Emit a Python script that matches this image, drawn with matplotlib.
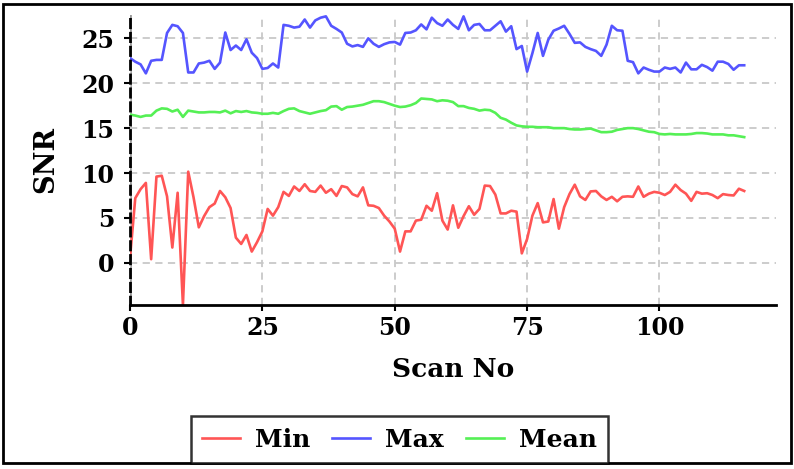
import numpy as np
import matplotlib
matplotlib.use("Agg")
import matplotlib.pyplot as plt
from matplotlib.patches import Rectangle

# SNR per scan
snr_min = [0.5, 7.2, 8.2, 8.9, 0.4, 9.6, 9.7, 7.4, 1.7, 7.8,
           -4.7, 10.15, 7.3, 3.95, 5.2, 6.2, 6.6, 8.0, 7.3, 6.1,
           2.8, 2.1, 3.1, 1.25, 2.3, 3.5, 6.0, 5.25, 6.2, 7.9,
           7.45, 8.5, 8.0, 8.75, 8.0, 7.9, 8.6, 7.8, 8.2, 7.45,
           8.55, 8.4, 7.65, 7.4, 8.4, 6.4, 6.35, 6.1, 5.25, 4.6,
           3.8, 1.25, 3.5, 3.5, 4.7, 4.8, 6.35, 5.8, 7.75, 4.7,
           3.7, 6.4, 3.9, 5.2, 6.3, 5.35, 6.0, 8.6, 8.55, 7.6,
           5.5, 5.5, 5.8, 5.7, 1.05, 2.65, 5.25, 6.65, 4.5, 4.6,
           7.1, 3.8, 6.2, 7.65, 8.7, 7.4, 7.0, 7.95, 8.0, 7.4,
           7.0, 7.35, 6.85, 7.35, 7.4, 7.35, 8.5, 7.35, 7.7, 7.9,
           7.8, 7.55, 7.9, 8.7, 8.1, 7.7, 6.9, 7.9, 7.7, 7.75,
           7.55, 7.2, 7.65, 7.55, 7.5, 8.25, 8.0]
snr_max = [22.8, 22.4, 22.1, 21.1, 22.5, 22.6, 22.6, 25.6, 26.5, 26.35,
           25.6, 21.2, 21.2, 22.2, 22.3, 22.5, 21.6, 22.3, 25.65, 23.7,
           24.2, 23.7, 24.9, 23.4, 22.8, 21.6, 21.7, 22.2, 21.75, 26.5,
           26.4, 26.2, 26.3, 27.1, 26.2, 27.0, 27.3, 27.45, 26.4, 26.05,
           25.65, 24.4, 24.1, 24.25, 24.05, 25.0, 24.4, 24.05, 24.35, 24.55,
           24.6, 24.3, 25.6, 25.65, 25.9, 26.55, 26.0, 27.3, 26.7, 26.4,
           27.1, 26.5, 26.05, 27.45, 25.9, 26.5, 26.6, 25.9, 25.9, 26.4,
           26.9, 25.75, 26.35, 23.8, 24.15, 21.3, 23.35, 25.6, 23.05, 24.85,
           25.85, 26.1, 26.4, 25.5, 24.5, 24.55, 24.05, 23.8, 23.6, 23.05,
           24.3, 26.4, 25.9, 25.85, 22.5, 22.35, 21.1, 21.75, 21.5, 21.3,
           21.3, 21.75, 21.6, 21.75, 21.2, 22.3, 21.55, 21.55, 22.05, 21.8,
           21.4, 22.4, 22.4, 22.15, 21.5, 22.0, 22.0]
snr_mean = [16.5, 16.4, 16.25, 16.4, 16.4, 16.95, 17.2, 17.15, 16.85, 17.05,
            16.25, 16.95, 16.85, 16.75, 16.75, 16.8, 16.8, 16.75, 16.95, 16.65,
            16.9, 16.8, 16.9, 16.75, 16.7, 16.6, 16.6, 16.7, 16.6, 16.9,
            17.15, 17.2, 16.9, 16.75, 16.6, 16.75, 16.9, 17.0, 17.4, 17.45,
            17.05, 17.35, 17.4, 17.5, 17.6, 17.8, 18.0, 18.0, 17.9, 17.7,
            17.5, 17.35, 17.4, 17.55, 17.8, 18.3, 18.25, 18.2, 18.0, 18.1,
            18.05, 17.9, 17.45, 17.45, 17.25, 17.15, 16.95, 17.05, 17.0, 16.7,
            16.15, 15.95, 15.6, 15.3, 15.2, 15.15, 15.15, 15.1, 15.1, 15.1,
            15.0, 15.0, 15.0, 14.9, 14.85, 14.85, 14.9, 14.95, 14.75, 14.55,
            14.55, 14.6, 14.8, 14.9, 15.0, 15.0, 14.9, 14.75, 14.6, 14.55,
            14.35, 14.3, 14.35, 14.3, 14.3, 14.3, 14.35, 14.45, 14.45, 14.4,
            14.3, 14.3, 14.3, 14.2, 14.2, 14.1, 14.0]
scan_no = np.arange(len(snr_min))

x_ticks = [0, 25, 50, 75, 100]
y_ticks = [0, 5, 10, 15, 20, 25]

plt.rcParams['font.family'] = 'DejaVu Serif'
plt.rcParams['font.weight'] = 'bold'

fig = plt.figure(figsize=(7.94, 4.69), dpi=100)
ax = fig.add_axes([0.1637, 0.3497, 0.8136, 0.6183])

ax.plot(scan_no, snr_min, color='#ff5555', lw=1.9, label='Min')
ax.plot(scan_no, snr_max, color='#5555ff', lw=1.9, label='Max')
ax.plot(scan_no, snr_mean, color='#55f055', lw=1.9, label='Mean')

ax.set_xlim(0, 122)
ax.set_ylim(-4.7, 27.6)
ax.set_xticks(x_ticks)
ax.set_yticks(y_ticks)
ax.grid(True, color='#c8c8c8', linestyle=(0, (4, 3)), linewidth=1.3)
ax.set_axisbelow(True)

for s in ['top', 'right']:
    ax.spines[s].set_visible(False)
ax.spines['bottom'].set_linewidth(2)
ax.spines['left'].set_linestyle((0, (3, 2)))
ax.spines['left'].set_linewidth(2)
ax.axvline(0, color='#999999', lw=2, zorder=0)

ax.tick_params(axis='both', labelsize=17, length=4.5, width=1.5, direction='out')
ax.tick_params(axis='y', pad=7)
for lab in ax.get_xticklabels() + ax.get_yticklabels():
    lab.set_fontweight('bold')

ax.set_xlabel('Scan No', fontsize=19, fontweight='bold', labelpad=12)
ax.set_ylabel('SNR', fontsize=19.5, fontweight='bold', labelpad=16)

leg = fig.legend(loc='lower center', bbox_to_anchor=(0.503, 0.013), ncol=3,
                 prop={'size': 18, 'weight': 'bold'}, frameon=True,
                 fancybox=False, handlelength=1.5, columnspacing=0.9,
                 handletextpad=0.6, borderpad=0.45, borderaxespad=0)
leg.get_frame().set_edgecolor('black')
leg.get_frame().set_linewidth(1.8)

# outer border
fig.patches.append(Rectangle((0.004, 0.012), 0.992, 0.979, transform=fig.transFigure,
                             fill=False, edgecolor='black', linewidth=2))

fig.savefig('out.png', dpi=100)
